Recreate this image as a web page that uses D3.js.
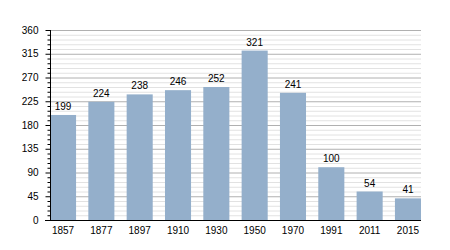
<!DOCTYPE html>
<html><head><meta charset="utf-8">
<script src="https://cdn.jsdelivr.net/npm/d3@7"></script>
<style>body{margin:0;background:#fff}svg{display:block}text{font-family:"Liberation Sans",Arial,sans-serif}</style>
</head><body><svg id="c" width="450" height="250"></svg>
<script>
const years = ["1857","1877","1897","1910","1930","1950","1970","1991","2011","2015"];
const population = [199,224,238,246,252,321,241,100,54,41];
const yTicks = [0,45,90,135,180,225,270,315,360];

(function(){
const svg = d3.select("#c");
const mLeft = 50, mRight = 421, mTop = 30, mBottom = 220;
const x = d3.scaleBand().domain(years).range([mLeft, mRight]).paddingInner(0.32).paddingOuter(0);
const y = d3.scaleLinear().domain([0,360]).range([mBottom, mTop]);

// minor gridlines
const minor = d3.range(0, 361, 9).filter(v => v % 45 !== 0);
svg.append("g").selectAll("line").data(minor).join("line")
  .attr("x1", mLeft).attr("x2", mRight).attr("y1", d => y(d)+0.5).attr("y2", d => y(d)+0.5)
  .attr("stroke", "#e2e2e2").attr("stroke-width", 1);
svg.append("g").selectAll("line").data(yTicks.filter(v=>v>0)).join("line")
  .attr("x1", mLeft).attr("x2", mRight).attr("y1", d => y(d)+0.5).attr("y2", d => y(d)+0.5)
  .attr("stroke", "#b0b0b0").attr("stroke-width", 1);

// bars
svg.append("g").selectAll("rect").data(years).join("rect")
  .attr("x", d => x(d)).attr("width", x.bandwidth())
  .attr("y", (d,i) => y(population[i])).attr("height", (d,i) => mBottom - y(population[i]))
  .attr("fill", "#94afcb");

// value labels
svg.append("g").selectAll("text").data(years).join("text")
  .attr("x", d => x(d) + x.bandwidth()/2).attr("y", (d,i) => y(population[i]) - 5)
  .attr("text-anchor", "middle").attr("font-size", 10).attr("fill", "#000")
  .text((d,i) => population[i]);

// y axis
const yAxis = d3.axisLeft(y).tickValues(yTicks).tickSize(5).tickPadding(7);
const gy = svg.append("g").attr("transform", `translate(${mLeft+0.5},0)`).call(yAxis);
gy.select(".domain").attr("d", `M0,${mTop}V${mBottom}`).attr("stroke", "#000");
gy.selectAll(".tick line").attr("stroke", "#000");
gy.selectAll(".tick text").attr("font-size", 10).attr("font-family", "Liberation Sans, Arial, sans-serif").attr("fill","#000");
// minor ticks
gy.append("g").selectAll("line").data(minor).join("line")
  .attr("x1", -3).attr("x2", 0).attr("y1", d => y(d)+0.5).attr("y2", d => y(d)+0.5).attr("stroke", "#000");

// x axis
const xAxis = d3.axisBottom(x).tickSize(0).tickPadding(6);
const gx = svg.append("g").attr("transform", `translate(0,${mBottom+0.5})`).call(xAxis);
gx.select(".domain").attr("d", `M${mLeft-5},0H${mRight}`).attr("stroke", "#000");
gx.selectAll(".tick text").attr("font-size", 10).attr("font-family", "Liberation Sans, Arial, sans-serif").attr("fill","#000");
})();
</script></body></html>
